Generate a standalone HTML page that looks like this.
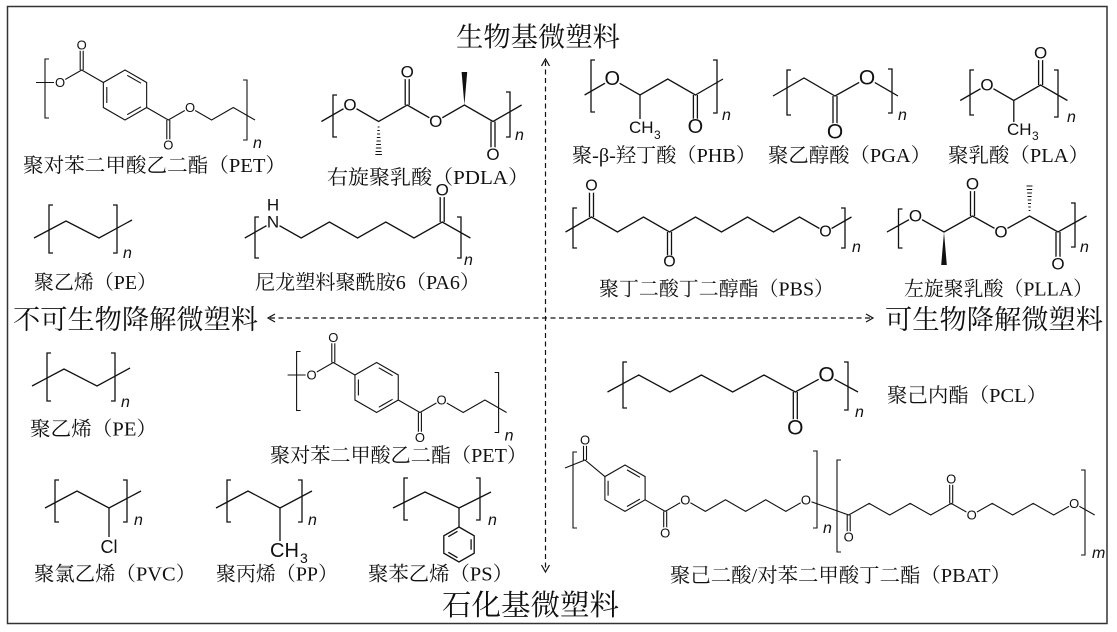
<!DOCTYPE html>
<html><head><meta charset="utf-8">
<style>
html,body{margin:0;padding:0;background:#fff;}
svg{display:block}
.b{stroke:#111;stroke-width:1.3;fill:none}
.t{stroke:#111;stroke-width:1.1;fill:none}
.h{stroke:#111;stroke-width:1;fill:none}
.a{font-family:"Liberation Sans",Arial,sans-serif;fill:#111;text-anchor:middle;dominant-baseline:central}
.s{font-family:"Liberation Sans",Arial,sans-serif;fill:#111}
.w{fill:#fff}
.n{font-family:"Liberation Sans",Arial,sans-serif;font-style:italic;font-size:16px;fill:#111}
.l{font-family:"Liberation Serif","Noto Serif CJK SC",serif;font-size:20px;fill:#111}
.x{font-family:"Liberation Serif","Noto Serif CJK SC",serif;fill:#111}
.d{stroke:#111;stroke-width:1.2;fill:none;stroke-dasharray:5 3.5}
.ar{stroke:#111;stroke-width:1.2;fill:none}
</style></head><body>
<svg width="1117" height="632" viewBox="0 0 1117 632" xmlns="http://www.w3.org/2000/svg">
<rect width="1117" height="632" fill="#fff"/>
<rect x="7.5" y="6.5" width="1099.5" height="617" fill="none" stroke="#333" stroke-width="1.5"/>

<!-- Axes -->
<path class="d" d="M545.5 61V570"/>
<path class="d" d="M270 318H871"/>
<path class="ar" d="M541.5 66L545.5 59L549.5 66"/>
<path class="ar" d="M541.5 565L545.5 572L549.5 565"/>
<path class="ar" d="M275 314L268 318L275 322"/>
<path class="ar" d="M866 314L873 318L866 322"/>

<text class="x" x="456" y="46.5" font-size="27" textLength="164" lengthAdjust="spacingAndGlyphs">生物基微塑料</text>
<text class="x" x="442" y="615" font-size="29" textLength="177" lengthAdjust="spacingAndGlyphs">石化基微塑料</text>
<text class="x" x="13" y="329" font-size="27" textLength="245" lengthAdjust="spacingAndGlyphs">不可生物降解微塑料</text>
<text class="x" x="885" y="329" font-size="27" textLength="218" lengthAdjust="spacingAndGlyphs">可生物降解微塑料</text>

<!-- PET top -->
<g id="pet1">
<g class="t">
<path d="M49 59H45V118H49"/>
<path d="M243 80H247V140H243"/>
<polygon points="125,70 146.65,82.5 146.65,107.5 125,120 103.35,107.5 103.35,82.5"/>
<path d="M127.2 75.3L141 83.2M141 106.8L127.2 114.7M106.8 103V87"/>
<path d="M36 82.5H60L81.7 70L103.35 82.5"/>
<path d="M80.2 70V45M83.2 70V45"/>
<path d="M146.65 107.5L168.3 120L190 107.5L211.6 120L233.3 107.5L255 120"/>
<path d="M166.8 120V145M169.8 120V145"/>
</g>
<circle class="w" cx="60" cy="82.5" r="6"/>
<circle class="w" cx="81.7" cy="45" r="6"/>
<circle class="w" cx="168.3" cy="145" r="6"/>
<circle class="w" cx="190" cy="107.5" r="6"/>
<text class="a" x="60" y="82.5" font-size="13">O</text>
<text class="a" x="81.7" y="45" font-size="13">O</text>
<text class="a" x="168.3" y="145" font-size="13">O</text>
<text class="a" x="190" y="107.5" font-size="13">O</text>
<text class="n" x="253" y="148">n</text>
</g>
<text class="l" x="23" y="172" textLength="263" lengthAdjust="spacingAndGlyphs">聚对苯二甲酸乙二酯（PET）</text>

<!-- PDLA -->
<g class="b">
<path d="M337 95H333V137H337"/>
<path d="M506 92H510V137H506"/>
<path d="M321.4 121.5L350 105L378.6 121.5L407.2 105L435.8 121.5L464.4 105L493 121.5L521.6 105"/>
<path d="M405.2 105V72M409.2 105V72"/>
<path d="M491 121.5V154.5M495 121.5V154.5"/>
</g>
<polygon points="464.4,105 461.6,72 467.2,72" fill="#111"/>
<path class="h" d="M377.7 127H379.5M377.4 130.5H379.8M377.1 134H380.1M376.8 137.5H380.4M376.5 141H380.7M376.2 144.5H381M375.9 148H381.3M375.6 151.5H381.6M375.3 154.5H381.9"/>
<circle class="w" cx="350" cy="105" r="7.5"/>
<circle class="w" cx="407.2" cy="72" r="7.5"/>
<circle class="w" cx="435.8" cy="121.5" r="7.5"/>
<circle class="w" cx="493" cy="154.5" r="7.5"/>
<text class="a" x="350" y="105" font-size="17">O</text>
<text class="a" x="407.2" y="72" font-size="17">O</text>
<text class="a" x="435.8" y="121.5" font-size="17">O</text>
<text class="a" x="493" y="154.5" font-size="17">O</text>
<text class="n" x="515" y="140">n</text>
<text class="l" x="327" y="184" textLength="202" lengthAdjust="spacingAndGlyphs">右旋聚乳酸（PDLA）</text>

<!-- PHB -->
<g class="b">
<path d="M595 60H591V112H595"/>
<path d="M713 60H717V113H713"/>
<path d="M584.6 95L612.3 79L640 95L667.7 79L695.4 95L723 79"/>
<path d="M640 95V119"/>
<path d="M693.4 95V127M697.4 95V127"/>
</g>
<circle class="w" cx="612.3" cy="79" r="8.5"/>
<circle class="w" cx="695.4" cy="127" r="8.5"/>
<text class="a" x="612.3" y="79" font-size="20">O</text>
<text class="a" x="695.4" y="127" font-size="20">O</text>
<text class="s" x="629" y="133" font-size="17">CH</text>
<text class="s" x="654" y="139" font-size="12">3</text>
<text class="n" x="722" y="120">n</text>
<text class="l" x="572" y="162" textLength="184" lengthAdjust="spacingAndGlyphs">聚-β-羟丁酸（PHB）</text>

<!-- PGA -->
<g class="b">
<path d="M791 70H787V115H791"/>
<path d="M888 69H892V113H888"/>
<path d="M773 96L804 78L835 96L867 78L898 96"/>
<path d="M833 96V132M837 96V132"/>
</g>
<circle class="w" cx="867" cy="78" r="9"/>
<circle class="w" cx="835" cy="132" r="9"/>
<text class="a" x="867" y="78" font-size="21">O</text>
<text class="a" x="835" y="132" font-size="21">O</text>
<text class="n" x="898" y="120">n</text>
<text class="l" x="768" y="162" textLength="163" lengthAdjust="spacingAndGlyphs">聚乙醇酸（PGA）</text>

<!-- PLA -->
<g class="b">
<path d="M974 70H970V115H974"/>
<path d="M1054 70H1058V117H1054"/>
<path d="M960.2 100.5L987 85L1013.8 100.5L1040.6 85L1067.4 100.5"/>
<path d="M1013.8 100.5V122"/>
<path d="M1038.6 85V53M1042.6 85V53"/>
</g>
<circle class="w" cx="987" cy="85" r="7.5"/>
<circle class="w" cx="1040.6" cy="53" r="7.5"/>
<text class="a" x="987" y="85" font-size="17">O</text>
<text class="a" x="1040.6" y="53" font-size="17">O</text>
<text class="s" x="1007" y="135" font-size="17">CH</text>
<text class="s" x="1032" y="140" font-size="12">3</text>
<text class="n" x="1067" y="122">n</text>
<text class="l" x="948" y="162" textLength="141" lengthAdjust="spacingAndGlyphs">聚乳酸（PLA）</text>

<!-- PE top -->
<g class="b">
<path d="M53 205H49V253H53"/>
<path d="M113 205H117V253H113"/>
<path d="M34 238L66 221L99 238L132 220"/>
</g>
<text class="n" x="123" y="258">n</text>
<text class="l" x="34" y="289" textLength="123" lengthAdjust="spacingAndGlyphs">聚乙烯（PE）</text>

<!-- PA6 -->
<g class="b">
<path d="M259 217H255V258H259"/>
<path d="M457 217H461V258H457"/>
<path d="M244.8 238L273 222L301.2 238L329.4 222L357.6 238L385.8 222L414 238L442.2 222L470.4 238"/>
<path d="M440.2 222V190M444.2 222V190"/>
</g>
<circle class="w" cx="273" cy="222" r="7.5"/>
<circle class="w" cx="442.2" cy="190" r="7.5"/>
<text class="a" x="273" y="222" font-size="17">N</text>
<text class="a" x="273" y="205" font-size="17">H</text>
<text class="a" x="442.2" y="190" font-size="17">O</text>
<text class="n" x="464" y="265">n</text>
<text class="l" x="255" y="289" textLength="225" lengthAdjust="spacingAndGlyphs">尼龙塑料聚酰胺6（PA6）</text>

<!-- PBS -->
<g class="b">
<path d="M577 208H573V248H577"/>
<path d="M841 208H845V248H841"/>
<path d="M565.5 232L591.5 217L617.5 232L643.5 217L669.5 232L695.5 217L721.5 232L747.5 217L773.5 232L799.5 217L825.5 232L851.5 217"/>
<path d="M589.5 217V186M593.5 217V186"/>
<path d="M667.5 232V262M671.5 232V262"/>
</g>
<circle class="w" cx="591.5" cy="186" r="7"/>
<circle class="w" cx="669.5" cy="262" r="7"/>
<circle class="w" cx="825.5" cy="232" r="7"/>
<text class="a" x="591.5" y="186" font-size="16">O</text>
<text class="a" x="669.5" y="262" font-size="16">O</text>
<text class="a" x="825.5" y="232" font-size="16">O</text>
<text class="n" x="852" y="252">n</text>
<text class="l" x="599" y="295.5" textLength="235" lengthAdjust="spacingAndGlyphs">聚丁二酸丁二醇酯（PBS）</text>

<!-- PLLA -->
<g class="b">
<path d="M902.5 209H898.5V248H902.5"/>
<path d="M1071 203H1075V247H1071"/>
<path d="M887 232L915.5 216L944 232L972.5 216L1001 232L1029.5 216L1058 232L1086.5 216"/>
<path d="M970.5 216V184M974.5 216V184"/>
<path d="M1056 232V264M1060 232V264"/>
</g>
<polygon points="944,232 941.2,265 946.8,265" fill="#111"/>
<path class="h" d="M1028.6 210.5H1030.4M1028.3 207H1030.7M1028 203.5H1031M1027.7 200H1031.3M1027.4 196.5H1031.6M1027.1 193H1031.9M1026.8 189.5H1032.2M1026.5 186H1032.5"/>
<circle class="w" cx="915.5" cy="216" r="7.5"/>
<circle class="w" cx="972.5" cy="184" r="7.5"/>
<circle class="w" cx="1001" cy="232" r="7.5"/>
<circle class="w" cx="1058" cy="264" r="7.5"/>
<text class="a" x="915.5" y="216" font-size="17">O</text>
<text class="a" x="972.5" y="184" font-size="17">O</text>
<text class="a" x="1001" y="232" font-size="17">O</text>
<text class="a" x="1058" y="264" font-size="17">O</text>
<text class="n" x="1080" y="252">n</text>
<text class="l" x="904" y="295.5" textLength="189" lengthAdjust="spacingAndGlyphs">左旋聚乳酸（PLLA）</text>

<!-- PE lower -->
<g class="b" transform="translate(-2,148)">
<path d="M53 205H49V253H53"/>
<path d="M113 205H117V253H113"/>
<path d="M34 238L66 221L99 238L132 220"/>
</g>
<text class="n" x="121" y="407">n</text>
<text class="l" x="30" y="435.5" textLength="127" lengthAdjust="spacingAndGlyphs">聚乙烯（PE）</text>

<!-- PET lower -->
<g transform="translate(251.6,292.5)">
<g class="t">
<path d="M49 59H45V118H49"/>
<path d="M243 80H247V140H243"/>
<polygon points="125,70 146.65,82.5 146.65,107.5 125,120 103.35,107.5 103.35,82.5"/>
<path d="M127.2 75.3L141 83.2M141 106.8L127.2 114.7M106.8 103V87"/>
<path d="M36 82.5H60L81.7 70L103.35 82.5"/>
<path d="M80.2 70V45M83.2 70V45"/>
<path d="M146.65 107.5L168.3 120L190 107.5L211.6 120L233.3 107.5L255 120"/>
<path d="M166.8 120V145M169.8 120V145"/>
</g>
<circle class="w" cx="60" cy="82.5" r="6"/>
<circle class="w" cx="81.7" cy="45" r="6"/>
<circle class="w" cx="168.3" cy="145" r="6"/>
<circle class="w" cx="190" cy="107.5" r="6"/>
<text class="a" x="60" y="82.5" font-size="13">O</text>
<text class="a" x="81.7" y="45" font-size="13">O</text>
<text class="a" x="168.3" y="145" font-size="13">O</text>
<text class="a" x="190" y="107.5" font-size="13">O</text>
<text class="n" x="253" y="148">n</text>
</g>
<text class="l" x="270" y="462" textLength="257" lengthAdjust="spacingAndGlyphs">聚对苯二甲酸乙二酯（PET）</text>

<!-- PVC -->
<g class="b">
<path d="M59 480H55V522H59"/>
<path d="M123 480H127V522H123"/>
<path d="M45 508L77 491L109 508L141 491"/>
<path d="M109 508V537"/>
</g>
<text class="a" x="109" y="547" font-size="18">Cl</text>
<text class="n" x="134" y="525">n</text>
<text class="l" x="34" y="580.5" textLength="162" lengthAdjust="spacingAndGlyphs">聚氯乙烯（PVC）</text>

<!-- PP -->
<g class="b">
<path d="M231 480H227V522H231"/>
<path d="M298 480H302V522H298"/>
<path d="M216 508L248 491L280 508L312 491"/>
<path d="M280 508V541"/>
</g>
<text class="s" x="270" y="557" font-size="20">CH</text>
<text class="s" x="300" y="563" font-size="14">3</text>
<text class="n" x="308" y="525">n</text>
<text class="l" x="216" y="580.5" textLength="122" lengthAdjust="spacingAndGlyphs">聚丙烯（PP）</text>

<!-- PS -->
<g class="b">
<path d="M408 478H404V520H408"/>
<path d="M476 478H480V520H476"/>
<path d="M393 508L425 492L459 508L491 492"/>
<path d="M459 508V527"/>
<polygon points="459,527 474.2,535.75 474.2,553.25 459,562 443.8,553.25 443.8,535.75"/>
<path d="M471.1 539.2V549.8M457.5 557.7L448.3 552.3M448.3 536.7L457.5 531.3"/>
</g>
<text class="n" x="488" y="525">n</text>
<text class="l" x="368" y="580.5" textLength="145" lengthAdjust="spacingAndGlyphs">聚苯乙烯（PS）</text>

<!-- PCL -->
<g class="b">
<path d="M627 362H623V408H627"/>
<path d="M844 362H848V410H844"/>
<path d="M607.5 392L638.8 375L670 392L701.4 375L732.7 392L764 375L795.3 392L826.6 375L858 392"/>
<path d="M793.3 392V428M797.3 392V428"/>
</g>
<circle class="w" cx="826.6" cy="375" r="9"/>
<circle class="w" cx="795.3" cy="428" r="9"/>
<text class="a" x="826.6" y="375" font-size="21">O</text>
<text class="a" x="795.3" y="428" font-size="21">O</text>
<text class="n" x="855" y="417">n</text>
<text class="l" x="887" y="402" textLength="160" lengthAdjust="spacingAndGlyphs">聚己内酯（PCL）</text>

<!-- PBAT -->
<g class="t">
<path d="M577 452H573V528H577"/>
<path d="M813 451H817V528H813"/>
<path d="M841 460H837V552H841"/>
<path d="M1081 470H1085V555H1081"/>
<path d="M565 468L585 460L604.9 476.6"/>
<path d="M583.5 460V440M586.5 460V440"/>
<polygon points="625,465 645.1,476.6 645.1,499.8 625,511.4 604.9,499.8 604.9,476.6"/>
<path d="M627 469.9L639.9 477.3M639.9 499.1L627 506.5M608.1 495.6V480.8"/>
<path d="M645.1 499.8L665.2 511.4L685.3 499.8L705.4 511.4L725.5 499.8L745.6 511.4L765.7 499.8L785.8 511.4L805.9 499.8L848.7 515L869.2 503.4L889.7 515L910.2 503.4L930.7 515L951.2 503.4L971.7 515L992.2 503.4L1012.7 515L1033.2 503.4L1053.7 515L1074.2 503.4L1094.7 515"/>
<path d="M663.7 511.4V533M666.7 511.4V533"/>
<path d="M847.2 515V537M850.2 515V537"/>
<path d="M949.7 503.4V479M952.7 503.4V479"/>
</g>
<circle class="w" cx="585" cy="440" r="6"/>
<circle class="w" cx="665.2" cy="533" r="6"/>
<circle class="w" cx="685.3" cy="499.8" r="6"/>
<circle class="w" cx="805.9" cy="499.8" r="6"/>
<circle class="w" cx="848.7" cy="537" r="6"/>
<circle class="w" cx="951.2" cy="479" r="6"/>
<circle class="w" cx="971.7" cy="515" r="6"/>
<circle class="w" cx="1074.2" cy="503.4" r="6"/>
<text class="a" x="585" y="440" font-size="13">O</text>
<text class="a" x="665.2" y="533" font-size="13">O</text>
<text class="a" x="685.3" y="499.8" font-size="13">O</text>
<text class="a" x="805.9" y="499.8" font-size="13">O</text>
<text class="a" x="848.7" y="537" font-size="13">O</text>
<text class="a" x="951.2" y="479" font-size="13">O</text>
<text class="a" x="971.7" y="515" font-size="13">O</text>
<text class="a" x="1074.2" y="503.4" font-size="13">O</text>
<text class="n" x="823" y="533">n</text>
<text class="n" x="1092" y="558">m</text>
<text class="l" x="670" y="582" textLength="341" lengthAdjust="spacingAndGlyphs">聚己二酸/对苯二甲酸丁二酯（PBAT）</text>

</svg>
</body></html>
